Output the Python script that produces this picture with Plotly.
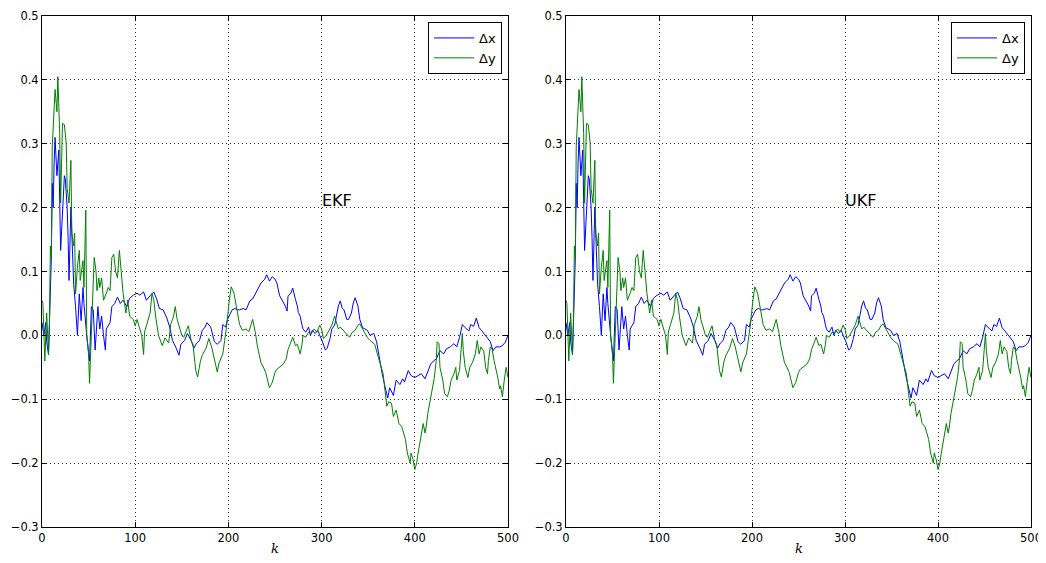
import plotly.graph_objects as go

# ---------------- data ----------------
k_dx = [0, 2, 4, 5, 7, 9, 10, 11, 12, 13, 14, 16, 18, 20, 22, 24, 25, 27, 28, 29,
        31, 32, 34, 36, 38, 40, 42, 44, 45, 48, 51, 53, 55, 57, 60, 62, 64, 66, 68, 69,
        73, 75, 78, 81, 84, 87, 91, 94, 98, 102, 105, 109, 112, 116, 120, 123, 126, 130, 134, 137,
        140, 144, 147, 149, 153, 156, 160, 163, 166, 169, 172, 175, 177, 181, 183, 185, 188, 192, 194, 197,
        199, 202, 204, 207, 210, 212, 216, 219, 221, 223, 226, 229, 232, 235, 239, 241, 244, 247, 250, 252,
        255, 258, 261, 263, 264, 267, 269, 272, 274, 275, 277, 279, 280, 283, 286, 288, 290, 293, 296, 298,
        301, 304, 306, 309, 311, 314, 316, 318, 320, 322, 324, 327, 329, 332, 334, 336, 339, 341, 344, 346,
        349, 352, 356, 359, 361, 365, 368, 371, 373, 377, 380, 384, 387, 389, 393, 396, 400, 403, 407, 411,
        414, 417, 420, 423, 427, 431, 434, 438, 442, 445, 448, 451, 454, 458, 460, 463, 466, 469, 472, 476,
        479, 481, 484, 487, 491, 494, 497, 500]
dx_ekf = [0.02, 0.0, 0.02, -0.01, -0.03, 0.055, 0.12, 0.238, 0.2, 0.27, 0.31, 0.25, 0.29, 0.133, 0.2, 0.25, 0.245, 0.2, 0.153, 0.086,
          0.2, 0.15, 0.08, 0.045, 0.0, 0.065, 0.023, 0.075, 0.05, 0.0, -0.04, 0.045, 0.04, -0.023, 0.045, 0.01, 0.03, 0.0, -0.023, 0.01,
          0.02, 0.045, 0.05, 0.06, 0.05, 0.055, 0.045, 0.058, 0.063, 0.066, 0.063, 0.068, 0.055, 0.062, 0.068, 0.057, 0.042, 0.04, 0.027, 0.013,
          -0.008, -0.02, -0.031, -0.014, -0.008, 0.003, -0.008, -0.02, -0.012, -0.008, 0.008, 0.013, 0.02, 0.013, 0.0, -0.01, -0.014, -0.008, 0.017, 0.013,
          0.025, 0.035, 0.04, 0.042, 0.04, 0.04, 0.042, 0.04, 0.046, 0.054, 0.057, 0.066, 0.074, 0.082, 0.088, 0.095, 0.085, 0.092, 0.088, 0.082,
          0.062, 0.054, 0.046, 0.038, 0.062, 0.066, 0.074, 0.056, 0.046, 0.036, 0.03, 0.016, 0.01, 0.005, 0.013, 0.0, 0.008, 0.003, 0.008, 0.0,
          -0.01, -0.023, -0.02, -0.005, 0.01, 0.016, 0.03, 0.046, 0.054, 0.043, 0.04, 0.025, 0.025, 0.035, 0.051, 0.059, 0.046, 0.025, 0.012, 0.01,
          0.008, 0.0, 0.003, -0.01, -0.028, -0.06, -0.08, -0.098, -0.082, -0.094, -0.07, -0.077, -0.068, -0.073, -0.055, -0.063, -0.066, -0.063, -0.06, -0.068,
          -0.057, -0.045, -0.04, -0.037, -0.024, -0.029, -0.021, -0.018, -0.013, -0.018, -0.003, 0.017, 0.012, 0.007, 0.017, 0.014, 0.027, 0.012, 0.007, 0.0,
          -0.005, -0.01, -0.024, -0.018, -0.018, -0.016, -0.011, 0.0]

k_dy = [0, 1, 3, 5, 7, 8, 9, 10, 11, 13, 14, 16, 17, 19, 20, 22, 24, 26, 27, 29,
        31, 32, 34, 35, 36, 38, 40, 41, 44, 45, 47, 48, 50, 51, 53, 54, 56, 58, 59, 61,
        62, 64, 66, 69, 71, 73, 75, 77, 79, 81, 83, 85, 87, 90, 92, 94, 98, 100, 102, 105,
        107, 109, 110, 112, 116, 118, 120, 122, 125, 129, 132, 136, 138, 141, 143, 145, 148, 150, 152, 155,
        157, 160, 162, 165, 167, 170, 172, 176, 179, 182, 185, 188, 190, 194, 196, 198, 201, 203, 206, 209,
        212, 215, 219, 222, 226, 229, 231, 235, 237, 240, 244, 247, 250, 252, 255, 259, 262, 264, 267, 269,
        272, 274, 277, 279, 280, 283, 286, 289, 292, 295, 298, 300, 302, 305, 308, 311, 314, 316, 318, 320,
        323, 327, 330, 333, 336, 339, 341, 344, 346, 349, 352, 354, 357, 360, 363, 366, 368, 370, 372, 375,
        377, 380, 383, 386, 388, 390, 392, 395, 396, 398, 400, 402, 403, 405, 407, 409, 411, 412, 414, 416,
        418, 420, 421, 423, 424, 426, 427, 430, 432, 435, 437, 439, 442, 444, 445, 448, 451, 452, 454, 457,
        459, 462, 465, 467, 469, 471, 474, 476, 478, 479, 481, 483, 485, 489, 491, 492, 494, 496, 498, 500]
dy_ekf = [0.055, 0.05, -0.04, 0.035, -0.03, 0.02, 0.14, 0.12, 0.295, 0.37, 0.385, 0.35, 0.405, 0.316, 0.207, 0.332, 0.33, 0.3, 0.23, 0.207,
          0.274, 0.16, 0.14, 0.16, 0.065, 0.107, 0.133, 0.086, 0.117, 0.075, 0.196, 0.0, -0.03, -0.075, 0.0, 0.04, 0.122, 0.1, 0.07, 0.09,
          0.075, 0.09, 0.055, 0.066, 0.075, 0.07, 0.122, 0.127, 0.1, 0.09, 0.133, 0.1, 0.066, 0.035, 0.055, 0.03, 0.025, 0.015, 0.025, 0.01,
          0.0, -0.03, 0.005, 0.015, 0.035, 0.066, 0.055, 0.029, 0.0, -0.016, -0.004, -0.012, 0.017, 0.029, 0.045, 0.025, 0.012, 0.0, -0.003, 0.01,
          0.015, -0.008, -0.014, -0.055, -0.065, -0.04, -0.031, -0.02, -0.005, -0.018, -0.04, -0.057, -0.043, -0.029, -0.008, 0.013, 0.055, 0.076, 0.066, 0.04,
          0.017, 0.008, 0.01, 0.006, 0.025, 0.004, -0.016, -0.043, -0.048, -0.058, -0.082, -0.074, -0.058, -0.053, -0.05, -0.045, -0.037, -0.022, -0.011, -0.003,
          -0.016, -0.014, -0.029, -0.014, 0.0, -0.003, 0.005, 0.003, 0.01, 0.005, 0.016, 0.01, -0.005, 0.0, 0.008, 0.016, 0.03, 0.018, 0.01, 0.013,
          0.008, 0.003, -0.003, 0.005, 0.008, 0.016, 0.018, 0.01, 0.005, -0.003, -0.008, -0.01, -0.014, -0.03, -0.045, -0.06, -0.086, -0.111, -0.104, -0.106,
          -0.127, -0.117, -0.138, -0.143, -0.153, -0.163, -0.184, -0.2, -0.184, -0.194, -0.21, -0.2, -0.189, -0.174, -0.153, -0.138, -0.153, -0.145, -0.122, -0.106,
          -0.091, -0.076, -0.066, -0.039, -0.01, -0.013, -0.05, -0.07, -0.091, -0.096, -0.086, -0.07, -0.06, -0.05, -0.07, -0.055, 0.003, -0.024, -0.05, -0.066,
          -0.05, -0.042, -0.029, -0.008, -0.029, -0.018, -0.025, -0.05, -0.06, -0.039, -0.018, -0.022, -0.039, -0.066, -0.084, -0.079, -0.096, -0.07, -0.05, -0.066]

# UKF curves look practically identical to the EKF ones in the reference
dx_ukf = list(dx_ekf)
dy_ukf = list(dy_ekf)

y_ticks = [-0.3, -0.2, -0.1, 0.0, 0.1, 0.2, 0.3, 0.4, 0.5]
x_ticks = [0, 100, 200, 300, 400, 500]
panel_titles = ["EKF", "UKF"]
series_names = ["\u0394x", "\u0394y"]

# ---------------- figure ----------------
BLUE = "#0000ff"
GREEN = "#008000"
FONT = "DejaVu Sans"

fig = go.Figure()

panels = [
    (dx_ekf, dy_ekf, "x", "y", "legend"),
    (dx_ukf, dy_ukf, "x2", "y2", "legend2"),
]
for dx, dy, xa, ya, lg in panels:
    fig.add_trace(go.Scatter(x=k_dx, y=dx, mode="lines", name=series_names[0],
                             line=dict(color=BLUE, width=1), xaxis=xa, yaxis=ya, legend=lg))
    fig.add_trace(go.Scatter(x=k_dy, y=dy, mode="lines", name=series_names[1],
                             line=dict(color=GREEN, width=1), xaxis=xa, yaxis=ya, legend=lg))

# page has an 8 px body margin: the figure is offset by it
OFF = 8
W, H = 1046 - OFF, 563 - 2 * OFF


def px_x(p):
    return (p - OFF) / W


def px_y(p):
    return (H - (p - OFF)) / H


y_dom = [px_y(527), px_y(16)]
x_doms = [[px_x(42), px_x(508)], [px_x(566), px_x(1031)]]

axis_common = dict(
    showline=True, linecolor="black", linewidth=1, mirror="ticks",
    ticks="inside", ticklen=5, tickcolor="black", tickwidth=1,
    showgrid=True, gridcolor="rgba(0,0,0,0.8)", griddash="1px,3px", gridwidth=1,
    zeroline=False, automargin=False, ticklabeloverflow="allow",
    tickfont=dict(family=FONT, size=11.5, color="black"),
)

for i, (xa, ya) in enumerate([("xaxis", "yaxis"), ("xaxis2", "yaxis2")]):
    anchor_x = "y" if i == 0 else "y2"
    anchor_y = "x" if i == 0 else "x2"
    xr = "x" if i == 0 else "x2"
    yr = "y" if i == 0 else "y2"
    fig.layout[xa] = dict(axis_common, domain=x_doms[i], anchor=anchor_x, range=[0, 500],
                          tickvals=x_ticks, ticktext=[str(v) for v in x_ticks])
    fig.layout[ya] = dict(axis_common, domain=y_dom, anchor=anchor_y, range=[-0.3, 0.5],
                          tickvals=y_ticks, ticktext=[("\u2212" if v < 0 else "") + f"{abs(v):.1f}" for v in y_ticks])
    fig.add_annotation(x=300, y=0.2, xref=xr, yref=yr,
                       text=panel_titles[i], showarrow=False, xanchor="left", yanchor="bottom",
                       yshift=-4, xshift=-2, font=dict(family=FONT, size=16, color="black"))
    # x-axis label (italic k)
    fig.add_annotation(x=0.5, y=0, xref=xr + " domain", yref="paper",
                       text="<i>k</i>", showarrow=False, xanchor="center", yanchor="bottom",
                       yshift=-3, font=dict(family="DejaVu Serif", size=13, color="black"))

leg_common = dict(bordercolor="black", borderwidth=1, bgcolor="white",
                  font=dict(family=FONT, size=13, color="black"),
                  xanchor="right", yanchor="top", y=px_y(22), tracegroupgap=0,
                  itemwidth=40)
fig.update_layout(
    width=W, height=H,
    margin=dict(l=0, r=0, t=0, b=0, autoexpand=False),
    paper_bgcolor="white", plot_bgcolor="white",
    showlegend=True,
    legend=dict(leg_common, x=px_x(502)),
    legend2=dict(leg_common, x=px_x(1025)),
)

fig.write_html("out.html")
